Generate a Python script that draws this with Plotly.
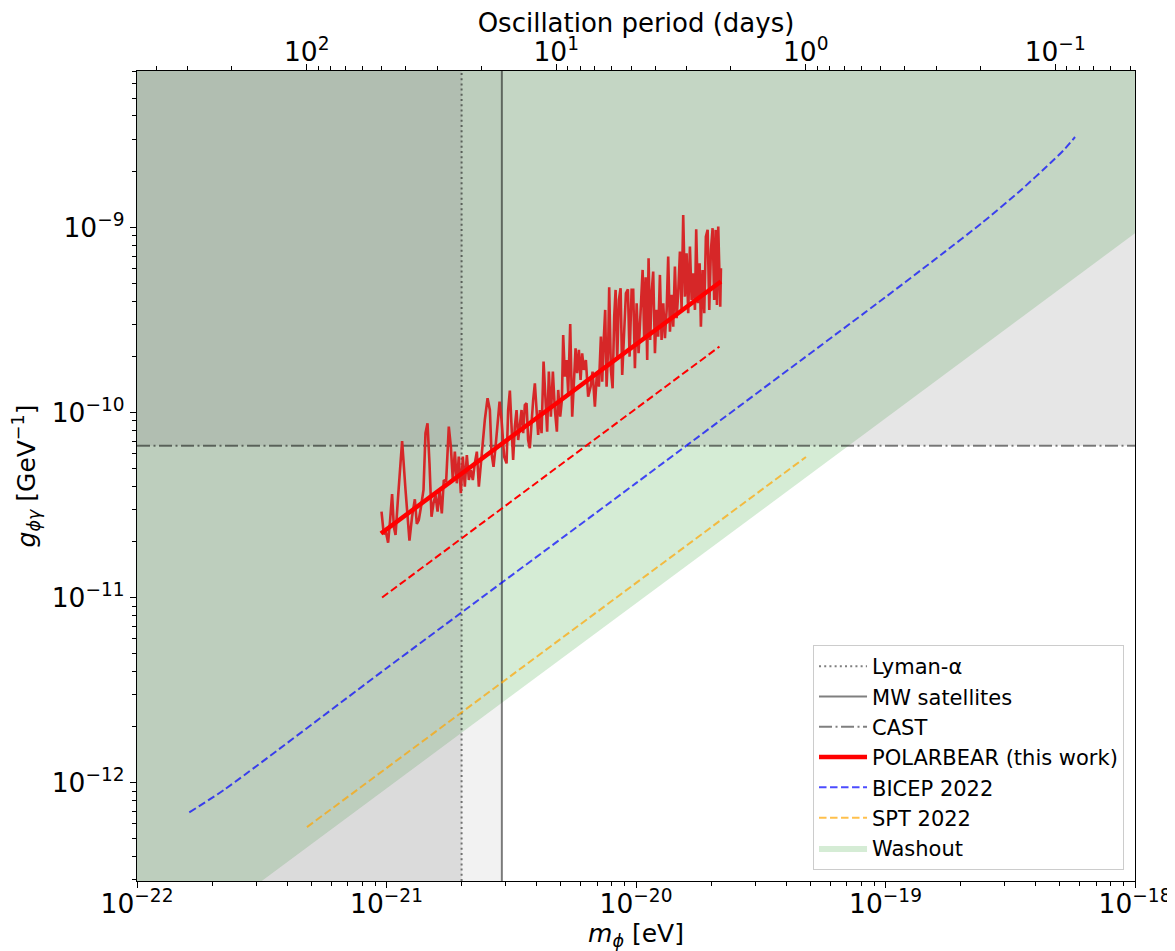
import numpy as np
import plotly.graph_objects as go

# ---------------- data ----------------
# axis limits
mass_exp_range = [-22, -18]          # log10(eV)
g_range = [2.94e-13, 7.0e-9]         # GeV^-1
g_tick_exps = [-12, -11, -10, -9]
planck_h_eVs = 4.135667696e-15       # for the top (period) axis
seconds_per_day = 86400.0
period_tick_values = [100, 10, 1, 0.1]
period_tick_labels = ["10<sup>2</sup>", "10<sup>1</sup>", "10<sup>0</sup>", "10<sup>−1</sup>"]

# exclusion limits
lyman_alpha_mass = 2.0e-21           # eV
mw_satellites_mass = 2.9e-21         # eV
cast_g = 6.6e-11                     # GeV^-1

# washout boundary (region above is "Washout")
washout_mass = [1e-22, 1e-18]
washout_g = [9.3e-14, 9.3e-10]

# POLARBEAR noisy limit: mass in units of 1e-21 eV, g in units of 1e-11 GeV^-1
pb_mass_1e21 = [
    0.955, 0.975, 0.994, 1.015, 1.034, 1.053, 1.070, 1.087, 1.113, 1.155, 1.192, 1.214, 1.236, 1.266,
    1.299, 1.323, 1.347, 1.372, 1.407, 1.433, 1.460, 1.487, 1.515, 1.543, 1.572, 1.602, 1.631, 1.666,
    1.697, 1.734, 1.777, 1.811, 1.844, 1.879, 1.914, 1.949, 1.986, 2.023, 2.060, 2.099, 2.138, 2.178,
    2.218, 2.259, 2.302, 2.345, 2.388, 2.433, 2.478, 2.541, 2.596, 2.636, 2.685, 2.736, 2.787, 2.839, 2.892,
    2.962, 3.028, 3.073, 3.122, 3.171, 3.218, 3.269, 3.321, 3.371, 3.424, 3.478, 3.530, 3.585, 3.642,
    3.696, 3.754, 3.814, 3.871, 3.932, 3.994, 4.054, 4.118, 4.183, 4.261, 4.340, 4.405, 4.475, 4.558,
    4.643, 4.730, 4.818, 4.877, 4.968, 5.046, 5.107, 5.188, 5.270, 5.349, 5.449, 5.550, 5.636, 5.725,
    5.810, 5.903, 5.996, 6.085, 6.181, 6.296, 6.431, 6.577, 6.699, 6.842, 6.970, 7.100,
    7.233, 7.320, 7.436, 7.525, 7.623, 7.736, 7.808, 7.932, 8.058, 8.178, 8.284, 8.407, 8.540, 8.675,
    8.806, 8.945, 9.112, 9.280, 9.426, 9.603, 9.746, 9.899, 10.06, 10.24, 10.43, 10.63, 10.79, 10.93,
    11.09, 11.23, 11.40, 11.55, 11.72, 11.91, 12.09, 12.27, 12.47, 12.66, 12.86, 13.06, 13.27, 13.46,
    13.68, 13.89, 14.10, 14.32, 14.55, 14.76, 15.00, 15.23, 15.46, 15.71, 15.95, 16.19, 16.45, 16.71,
    16.96, 17.23, 17.43, 17.71, 17.99, 18.20, 18.49, 18.77, 19.06, 19.37, 19.66, 19.97, 20.28, 20.58,
    20.85, 21.11, 21.36, 21.56, 21.76, 21.90,
]
pb_g_1e11 = [
    2.909, 2.204, 2.268, 1.978, 2.624, 3.627, 2.413, 2.177, 3.507, 7.014, 3.812, 2.624, 2.028, 2.734,
    3.395, 2.496, 2.624, 3.035, 3.812, 7.72, 8.74, 5.31, 2.734, 3.230, 3.581, 2.909, 3.812, 2.852,
    4.316, 4.226, 8.38, 6.534, 4.316, 6.14, 4.143, 5.77, 3.659, 5.77, 3.971, 5.89, 4.316, 4.89,
    4.316, 5.31, 6.14, 3.971, 5.31, 6.534, 9.11, 11.94, 10.31, 6.02, 5.09, 6.534, 8.38, 11.44, 9.11,
    5.77, 5.31, 10.31, 13.12, 7.72, 5.54, 8.38, 10.31, 7.10, 8.38, 10.31, 7.72, 10.98, 11.21,
    7.10, 6.41, 9.11, 11.68, 14.38, 9.49, 7.56, 10.31, 7.72, 18.82, 11.68, 7.88, 16.62, 9.49,
    16.62, 10.31, 7.88, 13.23, 9.49, 11.68, 26.23, 15.62, 19.22, 12.70, 30.09, 9.49, 14.38, 22.23,
    16.29, 21.77, 14.99, 20.89, 16.97, 19.22, 12.17, 13.79, 16.62, 10.75, 16.29, 13.79,
    25.69, 14.67, 25.69, 35.83, 13.79, 22.68, 47.52, 16.97, 13.51, 32.95, 45.94, 19.22, 40.56, 46.93,
    15.95, 26.80, 44.09, 46.34, 20.03, 45.94, 45.94, 17.33, 38.93, 20.89, 32.95, 58.92, 24.66, 53.8,
    19.22, 68.17, 24.66, 44.09, 57.68, 20.89, 35.83, 25.69, 55.37, 24.66, 38.93, 25.18, 35.83, 69.55,
    27.34, 43.18, 29.10, 61.4, 32.30, 44.09, 74.0, 35.83, 116.8, 42.26, 72.53, 34.38, 78.73, 40.56,
    56.55, 35.83, 97.8, 38.93, 64.06, 29.10, 58.92, 34.38, 89.2, 96.94, 35.83, 75.56, 99.0, 40.56,
    96.94, 38.12, 101.0, 61.4, 37.32, 60.18,
]
assert len(pb_mass_1e21) == len(pb_g_1e11)

# POLARBEAR smooth limit (thick) and projected (thin dashed)
pb_fit_mass = [9.5e-22, 2.19e-20]
pb_fit_g = [2.22e-11, 5.1e-10]
pb_dashed_mass = [9.6e-22, 2.16e-20]
pb_dashed_g = [1.0e-11, 2.27e-10]

# BICEP 2022
bicep_mass = [1.62e-22, 2.25e-22, 1e-21, 1e-20, 1e-19, 1.68e-19, 2.43e-19, 3.46e-19, 4.57e-19, 5.16e-19, 5.75e-19]
bicep_g = [6.9e-13, 9.2e-13, 4.15e-12, 4.15e-11, 4.2e-10, 7.16e-10, 1.055e-9, 1.574e-9, 2.22e-9, 2.60e-9, 3.08e-9]

# SPT 2022
spt_mass = [4.8e-22, 4.8e-20]
spt_g = [5.75e-13, 5.75e-11]

# ---------------- figure ----------------
FONT = "DejaVu Sans"
xmin, xmax = 10.0 ** mass_exp_range[0], 10.0 ** mass_exp_range[1]
ymin, ymax = g_range

fig = go.Figure()

def band(x0, x1, y0, y1, color):
    fig.add_trace(go.Scatter(
        x=[x0, x1, x1, x0, x0], y=[y0, y0, y1, y1, y0],
        mode="lines", fill="toself", fillcolor=color, line=dict(width=0),
        hoverinfo="skip", showlegend=False,
    ))

# washout region (above the boundary line)
fig.add_trace(go.Scatter(
    x=[washout_mass[0], washout_mass[1], washout_mass[1], washout_mass[0], washout_mass[0]],
    y=[washout_g[0], washout_g[1], ymax, ymax, washout_g[0]],
    mode="lines", fill="toself", fillcolor="rgba(44,160,44,0.2)", line=dict(width=0),
    hoverinfo="skip", name="Washout", showlegend=True, legendrank=7,
))

# grey exclusion bands (drawn over the washout)
band(xmin, mw_satellites_mass, ymin, ymax, "rgba(128,128,128,0.10)")
band(xmin, lyman_alpha_mass, ymin, ymax, "rgba(128,128,128,0.20)")
band(xmin, xmax, cast_g, ymax, "rgba(128,128,128,0.20)")

grey = "rgba(0,0,0,0.5)"
fig.add_trace(go.Scatter(x=[lyman_alpha_mass, lyman_alpha_mass], y=[ymin, ymax], mode="lines",
                         line=dict(color=grey, width=2, dash="2px,3.2px"),
                         name="Lyman-α", legendrank=1))
fig.add_trace(go.Scatter(x=[mw_satellites_mass, mw_satellites_mass], y=[ymin, ymax], mode="lines",
                         line=dict(color=grey, width=2),
                         name="MW satellites", legendrank=2))
fig.add_trace(go.Scatter(x=[xmin, xmax], y=[cast_g, cast_g], mode="lines",
                         line=dict(color=grey, width=2, dash="13px,3.5px,2px,3.5px"),
                         name="CAST", legendrank=3))

# BICEP and SPT
fig.add_trace(go.Scatter(x=bicep_mass, y=bicep_g, mode="lines", line_shape="spline",
                         line=dict(color="rgba(0,0,255,0.7)", width=2, dash="7.5px,3.5px", smoothing=0.6),
                         name="BICEP 2022", legendrank=5))
fig.add_trace(go.Scatter(x=spt_mass, y=spt_g, mode="lines",
                         line=dict(color="rgba(255,165,0,0.7)", width=2, dash="7.5px,3.5px"),
                         name="SPT 2022", legendrank=6))

# POLARBEAR
fig.add_trace(go.Scatter(x=[m * 1e-21 for m in pb_mass_1e21], y=[g * 1e-11 for g in pb_g_1e11],
                         mode="lines", line=dict(color="#d62728", width=2.6),
                         showlegend=False, name="POLARBEAR data"))
fig.add_trace(go.Scatter(x=pb_dashed_mass, y=pb_dashed_g, mode="lines",
                         line=dict(color="red", width=2, dash="7.5px,3.5px"),
                         showlegend=False, name="POLARBEAR dashed"))
fig.add_trace(go.Scatter(x=pb_fit_mass, y=pb_fit_g, mode="lines",
                         line=dict(color="red", width=4.5),
                         name="POLARBEAR (this work)", legendrank=4))

# invisible trace on the top (period) axis
period_range = [planck_h_eVs / xmin / seconds_per_day, planck_h_eVs / xmax / seconds_per_day]
fig.add_trace(go.Scatter(x=period_range, y=[ymin, ymin], xaxis="x2", mode="markers",
                         marker=dict(opacity=0), showlegend=False, hoverinfo="skip"))

period_minor = [d * 10.0 ** e for e in range(-2, 3) for d in range(2, 10)]
mass_exps = list(range(mass_exp_range[0], mass_exp_range[1] + 1))
mass_ticks = [10.0 ** e for e in mass_exps]
mass_tick_labels = ["10<sup>−%d</sup>" % (-e) for e in mass_exps]
g_ticks = [10.0 ** e for e in g_tick_exps]
g_tick_labels = ["10<sup>−%d</sup>" % (-e) for e in g_tick_exps]

def axis_style(minor, standoff=0):
    return dict(
        type="log", showgrid=False, zeroline=False, automargin=False,
        ticks="outside", ticklen=6, tickwidth=1.2, tickcolor="black",
        showline=True, linecolor="black", linewidth=1.3,
        tickfont=dict(family=FONT, size=26.5, color="black"),
        ticklabelstandoff=standoff,
        minor=minor,
    )

minor_auto = dict(ticks="outside", ticklen=3.5, tickwidth=1, tickcolor="black", dtick="D1", showgrid=False)
minor_period = dict(ticks="outside", ticklen=3.5, tickwidth=1, tickcolor="black",
                    tickmode="array", tickvals=period_minor, showgrid=False)

# page body has an 8px offset; margins compensate so the plot area matches the reference
fig.update_layout(
    width=1167, height=943,
    margin=dict(l=129, r=40, t=63, b=70),
    paper_bgcolor="white", plot_bgcolor="white",
    font=dict(family=FONT, color="black"),
    xaxis=dict(
        range=[mass_exp_range[0], mass_exp_range[1]],
        tickmode="array", tickvals=mass_ticks, ticktext=mass_tick_labels,
        title=dict(text="<i>m</i><sub><i>ϕ</i></sub> [eV]", font=dict(size=25), standoff=2),
        mirror=False, **axis_style(minor_auto, -7),
    ),
    xaxis2=dict(
        overlaying="x", side="top", anchor="y",
        range=[np.log10(period_range[0]), np.log10(period_range[1])],
        tickmode="array", tickvals=period_tick_values, ticktext=period_tick_labels,
        title=dict(text="Oscillation period (days)", font=dict(size=26), standoff=12),
        **axis_style(minor_period, -8),
    ),
    yaxis=dict(
        range=[np.log10(ymin), np.log10(ymax)],
        tickmode="array", tickvals=g_ticks, ticktext=g_tick_labels,
        title=dict(text="<i>g</i><sub><i>ϕγ</i></sub> [GeV<sup>−1</sup>]", font=dict(size=25), standoff=18),
        mirror=True, **axis_style(minor_auto, 0),
    ),
    legend=dict(
        x=0.989, y=0.0136, xanchor="right", yanchor="bottom",
        bgcolor="rgba(255,255,255,0.8)", bordercolor="#cccccc", borderwidth=1,
        font=dict(family=FONT, size=21, color="black"),
        traceorder="normal", itemwidth=48,
    ),
    showlegend=True,
)

fig.write_html("out.html")
